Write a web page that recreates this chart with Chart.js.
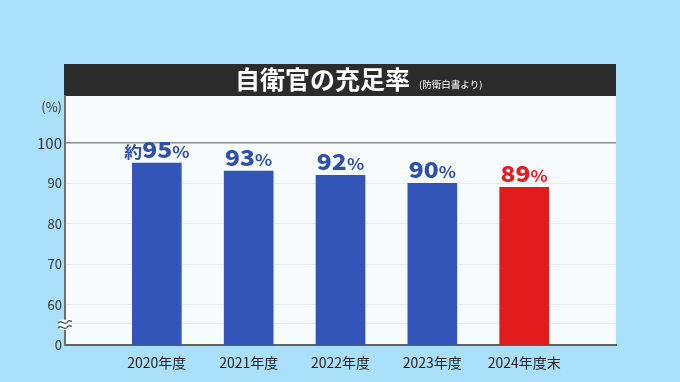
<!DOCTYPE html>
<html>
<head>
<meta charset="utf-8">
<script src="https://cdn.jsdelivr.net/npm/chart.js@4"></script>
<style>
html, body { margin: 0; padding: 0; background: #aae0fa; }
#wrap { width: 680px; height: 382px; }
</style>
</head>
<body>
<div id="wrap"><canvas id="rateChart"></canvas></div>
<script>
// data
var categories = ["2020年度", "2021年度", "2022年度", "2023年度", "2024年度末"];
var rates = [95, 93, 92, 90, 89];
var prefixes = ["約", "", "", "", ""];
var barColors = ["#3355b9", "#3355b9", "#3355b9", "#3355b9", "#e21c1c"];
var labelColors = ["#2f4fa9", "#2f4fa9", "#2f4fa9", "#2f4fa9", "#e02020"];
var yTickValues = [0, 60, 70, 80, 90, 100];
var titleText = "自衛官の充足率";
var sourceText = "(防衛白書より)";

var FONT = "'Noto Sans CJK JP', 'Noto Sans', sans-serif";

// broken axis: 0..60 squeezed into one step
function toAxis(v) { return v >= 60 ? v - 50 : v / 6; }

var xLabels = [""].concat(categories, [""]);
var plotted = [null].concat(rates.map(toAxis), [null]);

var panelPlugin = {
  id: "panel",
  beforeDraw: function (chart) {
    var ctx = chart.ctx, a = chart.chartArea;
    ctx.save();
    ctx.fillStyle = "#f6fbfe";
    ctx.fillRect(a.left, a.top, a.right - a.left, a.bottom - a.top);
    ctx.fillStyle = "#2c2c2c";
    ctx.fillRect(a.left - 1, 64, a.right - a.left + 1, a.top - 64);
    ctx.fillStyle = "#ffffff";
    ctx.textBaseline = "alphabetic";
    ctx.textAlign = "left";
    ctx.font = "bold 25px " + FONT;
    var tx = a.left + 170;
    ctx.fillText(titleText, tx, 89);
    var w = ctx.measureText(titleText).width;
    ctx.font = "9.5px " + FONT;
    ctx.fillText(sourceText, tx + w + 9, 88);
    ctx.restore();
  },
  afterDraw: function (chart) {
    var ctx = chart.ctx, a = chart.chartArea;
    var y = chart.scales.y.getPixelForValue(5);
    ctx.save();
    // axis break mark
    ctx.fillStyle = "#f6fbfe";
    ctx.fillRect(a.left - 6, y - 5, 12, 10);
    ctx.strokeStyle = "#555";
    ctx.lineWidth = 1.3;
    [-2.5, 2.5].forEach(function (d) {
      ctx.beginPath();
      ctx.moveTo(a.left - 7, y + d + 1);
      ctx.bezierCurveTo(a.left - 4, y + d - 4, a.left - 1, y + d + 4, a.left + 2, y + d);
      ctx.bezierCurveTo(a.left + 4, y + d - 3, a.left + 6, y + d - 1, a.left + 7, y + d - 1);
      ctx.stroke();
    });
    // value labels
    var sx = 1.12;
    var meta = chart.getDatasetMeta(0);
    meta.data.forEach(function (bar, i) {
      var k = i - 1;
      if (k < 0 || k >= rates.length) return;
      var parts = [
        { t: prefixes[k], f: "bold 16px " + FONT },
        { t: String(rates[k]), f: "900 22px " + FONT },
        { t: "%", f: "bold 16px " + FONT }
      ];
      var total = 0;
      parts.forEach(function (p) { ctx.font = p.f; p.w = ctx.measureText(p.t).width * sx; total += p.w; });
      var x = bar.x - total / 2;
      ctx.fillStyle = labelColors[k];
      ctx.textAlign = "left";
      ctx.textBaseline = "alphabetic";
      parts.forEach(function (p) {
        ctx.save();
        ctx.translate(x, bar.y - 5);
        ctx.scale(sx, 1);
        ctx.font = p.f;
        ctx.fillText(p.t, 0, 0);
        ctx.restore();
        x += p.w;
      });
    });
    ctx.restore();
  }
};

var ctxB = document.getElementById("rateChart").getContext("2d");
var rateChart = new Chart(ctxB, {
  type: "bar",
  data: {
    labels: xLabels,
    datasets: [{
      data: plotted,
      backgroundColor: [null].concat(barColors, [null]),
      barThickness: 49
    }]
  },
  options: {
    responsive: true,
    maintainAspectRatio: false,
    animation: false,
    layout: { padding: { top: 96, right: 64, left: 0, bottom: 0 } },
    plugins: { legend: { display: false }, tooltip: { enabled: false } },
    scales: {
      x: {
        offset: false,
        grid: { display: false },
        border: { display: true, color: "#606060", width: 2 },
        ticks: { color: "#222", font: { family: FONT, size: 14 }, padding: 1, maxRotation: 0, autoSkip: false },
        afterFit: function (s) { s.height = 37; }
      },
      y: {
        min: 0,
        max: 61.6,
        border: { display: true, color: "#707070", width: 2 },
        grid: {
          drawTicks: false,
          color: function (c) {
            var v = c.tick && c.tick.value;
            if (v === 50) return "#8c8c8c";
            if (v > 55) return "rgba(0,0,0,0)";
            return "#e4eaee";
          },
          lineWidth: function (c) { return c.tick && c.tick.value === 50 ? 1.5 : 1; }
        },
        afterBuildTicks: function (s) {
          var t = yTickValues.map(function (v) { return { value: toAxis(v), label: String(v) }; });
          t.push({ value: 5.2, label: "" });
          t.push({ value: 58.9, label: "(%)" });
          s.ticks = t;
        },
        ticks: {
          color: "#333",
          padding: 3,
          font: function (c) {
            return { family: FONT, size: c.tick && c.tick.value === 50 ? 15 : 13 };
          },
          callback: function (v, i, ticks) { return ticks[i].label; }
        },
        afterFit: function (s) { s.width = 65; }
      }
    }
  },
  plugins: [panelPlugin]
});
</script>
</body>
</html>
